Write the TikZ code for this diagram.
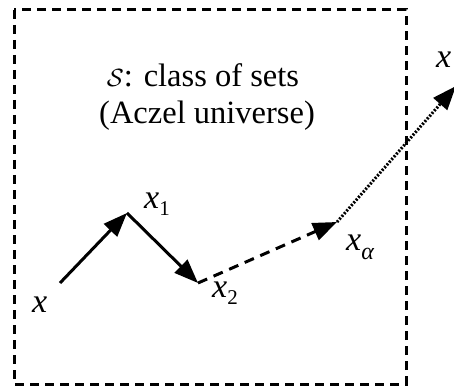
\documentclass[tikz,border=0pt]{standalone}
\usepackage{fontspec}
\setmainfont{Liberation Serif}
\usetikzlibrary{arrows.meta}
\begin{document}
\begin{tikzpicture}[x=1pt,y=-1pt,
  tip/.style={-{Triangle[length=24pt,width=18pt]}},
  conn/.style={tip,line width=3pt},
  dashconn/.style={tip,line width=3pt,dash pattern=on 10pt off 7pt},
  dotconn/.style={tip,line width=3pt,dash pattern=on 2pt off 1.6pt},
  frame/.style={line width=3pt,dash pattern=on 9pt off 6pt},
  lbl/.style={font=\fontsize{34}{34}\selectfont\itshape,inner sep=0pt,anchor=base west},
  txt/.style={font=\fontsize{32.5}{32.5}\selectfont,inner sep=0pt,anchor=base}]
\useasboundingbox (0,0) rectangle (454,387);
\draw[frame] (14,10) rectangle (406,384);
\node[txt] (t1) at (203,87) {$\mathcal{S}$: class of sets};
\node[txt] (t2) at (207,124) {(Aczel universe)};
\coordinate (p0) at (60,283);
\coordinate (p1) at (127,213);
\coordinate (p2) at (198,283);
\coordinate (pa) at (337,222);
\coordinate (pe) at (456,86);
\draw[conn] (p0) -- (p1);
\draw[conn] (p1) -- (p2);
\draw[dashconn] (p2) -- (pa);
\draw[dotconn] (pa) -- (pe);
\node[lbl] (lx) at (32,312) {x};
\node[lbl] (lx1) at (144,208) {x\raisebox{-7pt}{\fontsize{21}{21}\selectfont\upshape 1}};
\node[lbl] (lx2) at (212,297) {x\raisebox{-7pt}{\fontsize{21}{21}\selectfont\upshape 2}};
\node[lbl] (lxa) at (346,250) {x\raisebox{-9pt}{\fontsize{24}{24}\selectfont α}};
\node[lbl] (lxe) at (436,68) {x};
\end{tikzpicture}
\end{document}
